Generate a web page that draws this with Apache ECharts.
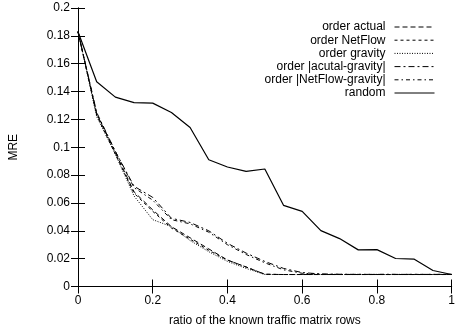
<!DOCTYPE html>
<html>
<head>
<meta charset="utf-8">
<script src="https://cdn.jsdelivr.net/npm/echarts@6/dist/echarts.min.js"></script>
<style>
  html, body { margin: 0; padding: 0; background: #fff; }
  #chart { width: 458px; height: 333px; }
</style>
</head>
<body>
<div id="chart"></div>
<script>
// Fraction of known traffic-matrix rows
const ratio = [0, 0.05, 0.1, 0.15, 0.2, 0.25, 0.3, 0.35, 0.4, 0.45, 0.5,
               0.55, 0.6, 0.65, 0.7, 0.75, 0.8, 0.85, 0.9, 0.95, 1.0];

// Mean relative error for each row-selection strategy
const orderActual = [0.183, 0.124, 0.096, 0.068, 0.055, 0.043, 0.035, 0.027, 0.019, 0.014, 0.0088,
                     0.0086, 0.0086, 0.0086, 0.0086, 0.0086, 0.0086, 0.0086, 0.0086, 0.0086, 0.0086];
const orderNetFlow = [0.183, 0.123, 0.095, 0.067, 0.054, 0.042, 0.034, 0.026, 0.019, 0.014, 0.0088,
                      0.0086, 0.0086, 0.0086, 0.0086, 0.0086, 0.0086, 0.0086, 0.0086, 0.0086, 0.0086];
const orderGravity = [0.183, 0.122, 0.095, 0.065, 0.048, 0.043, 0.033, 0.025, 0.018, 0.013, 0.0086,
                      0.0086, 0.0086, 0.0086, 0.0086, 0.0086, 0.0086, 0.0086, 0.0086, 0.0086, 0.0086];
const orderActualGravity = [0.183, 0.125, 0.097, 0.072, 0.064, 0.049, 0.046, 0.040, 0.031, 0.024, 0.018,
                            0.013, 0.010, 0.009, 0.0088, 0.0087, 0.0087, 0.0087, 0.0087, 0.0087, 0.0087];
const orderNetFlowGravity = [0.183, 0.124, 0.097, 0.071, 0.062, 0.048, 0.045, 0.039, 0.030, 0.023, 0.017,
                             0.012, 0.0095, 0.0088, 0.0087, 0.0087, 0.0087, 0.0087, 0.0087, 0.0087, 0.0087];
const randomOrder = [0.183, 0.147, 0.136, 0.132, 0.1317, 0.125, 0.1142, 0.091, 0.0858, 0.0827, 0.0844,
                     0.0583, 0.054, 0.0401, 0.0344, 0.0263, 0.0265, 0.0201, 0.0196, 0.0115, 0.0086];

const seriesNames = ['order actual', 'order NetFlow', 'order gravity',
                     'order |acutal-gravity|', 'order |NetFlow-gravity|', 'random'];

const pairs = ys => ratio.map((x, i) => [x, ys[i]]);

const FONT = 'Liberation Sans, Arial, sans-serif';
const INK = '#000';

function lineSeries(name, ys, dash, width) {
  return {
    name: name,
    type: 'line',
    data: pairs(ys),
    symbol: 'none',
    xAxisIndex: 0,
    yAxisIndex: 0,
    lineStyle: { color: INK, width: width, type: dash },
    itemStyle: { color: INK },
    animation: false
  };
}

const chart = echarts.init(document.getElementById('chart'), null, { renderer: 'canvas' });

const baseAxis = {
  axisLine: { show: true, lineStyle: { color: INK, width: 1 } },
  axisTick: { show: true, inside: true, length: 7, lineStyle: { color: INK, width: 1 } },
  splitLine: { show: false }
};

chart.setOption({
  backgroundColor: '#fff',
  animation: false,
  grid: { left: 75.5, right: 1.5, top: 8, bottom: 46.5, containLabel: false },
  xAxis: [
    Object.assign({}, baseAxis, {
      type: 'value', min: 0, max: 1, interval: 0.2, position: 'bottom',
      axisLabel: { color: INK, fontFamily: FONT, fontSize: 12, margin: 8 },
      name: 'ratio of the known traffic matrix rows',
      nameLocation: 'middle', nameGap: 28,
      nameTextStyle: { color: INK, fontFamily: FONT, fontSize: 12 }
    }),
    Object.assign({}, baseAxis, {
      type: 'value', min: 0, max: 1, interval: 0.2, position: 'top',
      axisLabel: { show: false }
    })
  ],
  yAxis: [
    Object.assign({}, baseAxis, {
      type: 'value', min: 0, max: 0.2, interval: 0.02, position: 'left',
      axisLabel: { color: INK, fontFamily: FONT, fontSize: 12, margin: 8 },
      name: 'MRE', nameLocation: 'middle', nameGap: 58, nameRotate: 90,
      nameTextStyle: { color: INK, fontFamily: FONT, fontSize: 12 }
    }),
    Object.assign({}, baseAxis, {
      type: 'value', min: 0, max: 0.2, interval: 0.02, position: 'right',
      axisLabel: { show: false }
    })
  ],
  legend: {
    orient: 'vertical',
    right: 18,
    top: 15.5,
    align: 'right',
    itemWidth: 40,
    itemHeight: 9,
    itemGap: 0.2,
    selectedMode: false,
    data: seriesNames,
    itemStyle: { color: 'rgba(0,0,0,0)', borderWidth: 0, opacity: 0 },
    lineStyle: { width: 1 },
    textStyle: { color: INK, fontFamily: FONT, fontSize: 12, lineHeight: 13, padding: [0, 4, 0, 0] }
  },
  series: [
    lineSeries(seriesNames[0], orderActual, [5, 3], 1),
    lineSeries(seriesNames[1], orderNetFlow, [3, 3], 1),
    lineSeries(seriesNames[2], orderGravity, [1, 1.5], 1),
    lineSeries(seriesNames[3], orderActualGravity, [6, 3, 2, 3], 1),
    lineSeries(seriesNames[4], orderNetFlowGravity, [4, 3, 1.5, 3], 1),
    lineSeries(seriesNames[5], randomOrder, 'solid', 1.2)
  ]
});
</script>
</body>
</html>
